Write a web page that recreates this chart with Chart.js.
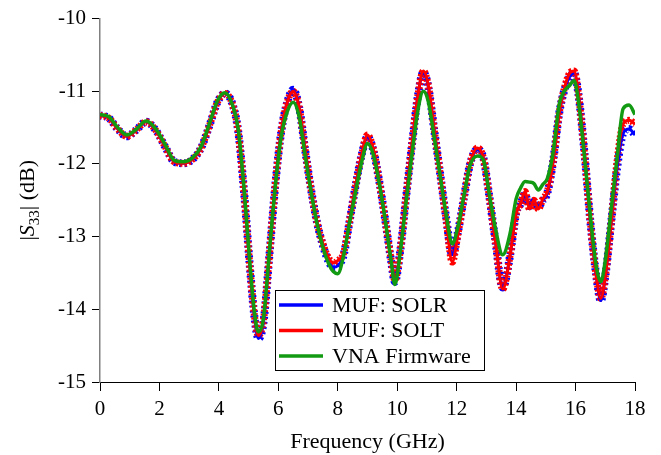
<!DOCTYPE html>
<html>
<head>
<meta charset="utf-8">
<script src="https://cdn.jsdelivr.net/npm/chart.js@4/dist/chart.umd.min.js"></script>
<style>
  html, body { margin: 0; padding: 0; background: #fff; }
  #wrap { width: 661px; height: 455px; position: relative; }
</style>
</head>
<body>
<div id="wrap"><canvas id="s33"></canvas></div>
<script>
  // frequency grid (GHz) and |S33| (dB)
  const FREQ = [0, 0.3, 0.6, 0.9, 1.2, 1.55, 1.9, 2.2, 2.5, 2.8, 3.1, 3.4, 3.7, 3.95, 4.2, 4.45, 4.65, 4.85,
    5.05, 5.2, 5.33, 5.5, 5.7, 5.9, 6.1, 6.3, 6.5, 6.7, 6.9, 7.1, 7.3, 7.5, 7.7, 7.85, 8.0, 8.2, 8.4, 8.6, 8.8,
    9.0, 9.2, 9.4, 9.6, 9.8, 9.92, 10.1, 10.3, 10.5, 10.7, 10.88, 11.05, 11.25, 11.45, 11.65, 11.85, 12.05,
    12.25, 12.45, 12.7, 12.9, 13.1, 13.3, 13.55, 13.8, 14.0, 14.15, 14.3, 14.45, 14.6, 14.75, 14.9, 15.05,
    15.25, 15.45, 15.65, 15.8, 15.95, 16.1, 16.3, 16.5, 16.7, 16.85, 17.0, 17.2, 17.4, 17.6, 17.8, 18.0];

  const SOLR = [-11.33, -11.37, -11.52, -11.62, -11.54, -11.42, -11.55, -11.77, -11.97, -11.99, -11.94, -11.78,
    -11.45, -11.15, -11.03, -11.17, -11.55, -12.40, -13.45, -14.12, -14.40, -14.18, -13.25, -12.28, -11.55,
    -11.15, -10.98, -11.22, -11.80, -12.35, -12.80, -13.12, -13.35, -13.42, -13.40, -13.25, -12.78, -12.30,
    -11.88, -11.63, -11.82, -12.25, -12.78, -13.35, -13.62, -13.20, -12.45, -11.72, -11.05, -10.74, -10.95,
    -11.55, -12.15, -12.75, -13.25, -12.92, -12.45, -12.00, -11.80, -11.92, -12.45, -13.05, -13.70, -13.25,
    -12.68, -12.55, -12.42, -12.58, -12.52, -12.58, -12.50, -12.40, -11.95, -11.30, -10.95, -10.80, -10.75,
    -11.05, -11.85, -12.80, -13.55, -13.88, -13.55, -12.80, -12.05, -11.58, -11.52, -11.60];

  const SOLT = [-11.33, -11.37, -11.52, -11.62, -11.54, -11.42, -11.55, -11.77, -11.97, -11.99, -11.94, -11.78,
    -11.45, -11.15, -11.03, -11.17, -11.55, -12.40, -13.45, -14.10, -14.36, -14.15, -13.25, -12.28, -11.55,
    -11.15, -11.00, -11.22, -11.80, -12.35, -12.80, -13.10, -13.30, -13.36, -13.33, -13.22, -12.78, -12.30,
    -11.88, -11.60, -11.80, -12.25, -12.78, -13.33, -13.60, -13.20, -12.45, -11.72, -11.05, -10.72, -10.93,
    -11.55, -12.15, -12.78, -13.35, -12.95, -12.45, -12.00, -11.78, -11.92, -12.45, -13.05, -13.72, -13.25,
    -12.68, -12.55, -12.38, -12.62, -12.50, -12.62, -12.48, -12.38, -11.95, -11.30, -10.92, -10.75, -10.72,
    -11.05, -11.85, -12.80, -13.55, -13.85, -13.55, -12.80, -11.95, -11.45, -11.40, -11.45];

  const VNA = [-11.32, -11.35, -11.50, -11.60, -11.53, -11.41, -11.53, -11.74, -11.95, -11.97, -11.92, -11.76,
    -11.42, -11.13, -11.02, -11.18, -11.52, -12.35, -13.40, -14.05, -14.31, -14.12, -13.20, -12.30, -11.62,
    -11.28, -11.15, -11.35, -11.88, -12.38, -12.82, -13.15, -13.38, -13.48, -13.51, -13.25, -12.80, -12.38,
    -11.98, -11.72, -11.88, -12.28, -12.78, -13.35, -13.66, -13.22, -12.52, -11.85, -11.25, -11.00, -11.15,
    -11.65, -12.18, -12.70, -13.10, -12.85, -12.42, -12.02, -11.89, -11.95, -12.42, -12.88, -13.25, -12.95,
    -12.48, -12.33, -12.24, -12.25, -12.27, -12.36, -12.28, -12.20, -11.83, -11.18, -10.98, -10.92, -10.85,
    -11.15, -11.90, -12.72, -13.42, -13.62, -13.33, -12.62, -11.90, -11.24, -11.19, -11.32];

  const SERIES_NAMES = ['MUF: SOLR', 'MUF: SOLT', 'VNA Firmware'];
  const X_TICKS = [0, 2, 4, 6, 8, 10, 12, 14, 16, 18];
  const Y_TICKS = [-15, -14, -13, -12, -11, -10];

  const BLUE = '#0000ff', RED = '#ff0000', GREEN = '#129a12';
  const SERIF = '"Liberation Serif", "Times New Roman", serif';

  const pts = ys => FREQ.map((f, i) => ({ x: f, y: ys[i] }));
  const line = (label, ys, color, width, order, dash) => ({
    label, data: pts(ys), borderColor: color, backgroundColor: color, borderWidth: width,
    borderDash: dash || [], pointRadius: 0, cubicInterpolationMode: 'monotone', order,
    borderCapStyle: 'butt', borderJoinStyle: 'round',
  });

  // legend box drawn inside the plot, bottom middle
  const legendBox = {
    id: 'legendBox',
    afterDraw(chart) {
      const { ctx } = chart;
      const items = [[SERIES_NAMES[0], BLUE], [SERIES_NAMES[1], RED], [SERIES_NAMES[2], GREEN]];
      ctx.save();
      ctx.fillStyle = '#fff';
      ctx.fillRect(275.5, 290.5, 209, 80);
      ctx.strokeStyle = '#000';
      ctx.lineWidth = 1;
      ctx.strokeRect(275.5, 290.5, 209, 80);
      ctx.font = '22px ' + SERIF;
      ctx.textBaseline = 'middle';
      items.forEach(([name, col], i) => {
        const y = 305 + i * 25.5;
        ctx.strokeStyle = col;
        ctx.lineWidth = 3.5;
        ctx.beginPath(); ctx.moveTo(279, y); ctx.lineTo(323, y); ctx.stroke();
        ctx.fillStyle = '#000';
        ctx.fillText(name, 332, y + 1);
      });
      ctx.restore();
    },
  };

  // |S33| (dB) with italic S and subscript, rotated
  const yTitle = {
    id: 'yTitle',
    afterDraw(chart) {
      const { ctx, chartArea } = chart;
      const parts = [
        { t: '|', f: '22px ' + SERIF, dy: 0 },
        { t: 'S', f: 'italic 22px ' + SERIF, dy: 0 },
        { t: '33', f: '15px ' + SERIF, dy: 5 },
        { t: '| (dB)', f: '22px ' + SERIF, dy: 0 },
      ];
      ctx.save();
      ctx.translate(34, (chartArea.top + chartArea.bottom) / 2);
      ctx.rotate(-Math.PI / 2);
      ctx.fillStyle = '#000';
      ctx.textBaseline = 'alphabetic';
      let total = 0;
      parts.forEach(p => { ctx.font = p.f; p.w = ctx.measureText(p.t).width; total += p.w; });
      let x = -total / 2;
      parts.forEach(p => { ctx.font = p.f; ctx.fillText(p.t, x, p.dy); x += p.w; });
      ctx.restore();
    },
  };

  new Chart(document.getElementById('s33'), {
    type: 'line',
    data: {
      datasets: [
        line(SERIES_NAMES[2], VNA, GREEN, 3.5, 0),
        line(SERIES_NAMES[1], SOLT, RED, 3, 1),
        line(SERIES_NAMES[0], SOLR, BLUE, 3, 2),
        line('SOLT band', SOLT, RED, 7, 3, [2, 2]),
        line('SOLR band', SOLR, BLUE, 8, 4, [2, 3]),
      ],
    },
    options: {
      responsive: true, maintainAspectRatio: false, animation: false,
      layout: { padding: { top: 16, right: 26, left: 0, bottom: 0 } },
      plugins: { legend: { display: false }, tooltip: { enabled: false } },
      scales: {
        x: {
          type: 'linear', min: 0, max: 18,
          afterBuildTicks: s => { s.ticks = X_TICKS.map(v => ({ value: v })); },
          afterFit: s => { s.height = 73; },
          ticks: { color: '#000', font: { family: SERIF, size: 21 }, padding: 6, maxRotation: 0 },
          grid: { drawOnChartArea: false, drawTicks: true, tickLength: 9, color: '#000' },
          border: { color: '#000', width: 1 },
          title: { display: true, text: 'Frequency (GHz)', color: '#000', font: { family: SERIF, size: 22 }, padding: { top: 2, bottom: 0 } },
        },
        y: {
          min: -15, max: -10,
          afterBuildTicks: s => { s.ticks = Y_TICKS.map(v => ({ value: v })); },
          afterFit: s => { s.width = 100; },
          ticks: { color: '#000', font: { family: SERIF, size: 21 }, padding: 6, callback: v => String(v) },
          grid: { drawOnChartArea: false, drawTicks: true, tickLength: 8, color: '#000' },
          border: { color: '#808080', width: 1.5 },
        },
      },
    },
    plugins: [legendBox, yTitle],
  });
</script>
</body>
</html>
